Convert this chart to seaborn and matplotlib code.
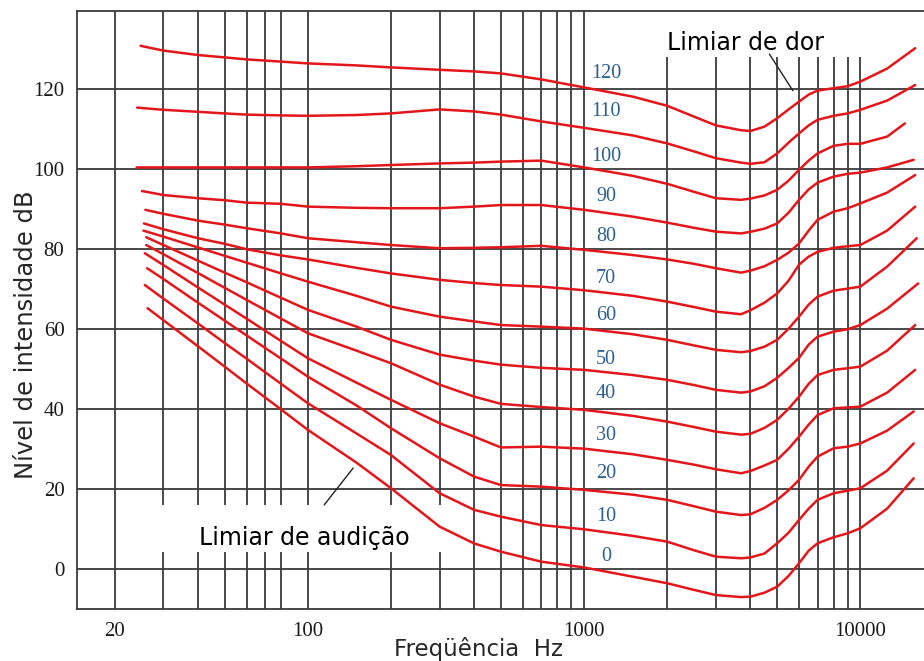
import pandas as pd
import matplotlib
matplotlib.use("Agg")
import matplotlib.pyplot as plt
from matplotlib.patches import Rectangle
from matplotlib.ticker import NullFormatter
import seaborn as sns

# Curvas isofônicas (nível em fon)
levels = [120, 110, 100, 90, 80, 70, 60, 50, 40, 30, 20, 10, 0]

# primeira e última frequência de cada curva
start_hz = [24.8, 24.1, 24.0, 25.1, 25.8, 25.5, 25.4, 26.0, 26.0, 25.7, 26.2, 25.7, 26.3]
end_hz = [15800, 15800, 14500, 15600, 15800, 15800, 16000, 16200, 15800, 15800, 15600, 15600, 15600]

# frequências intermediárias comuns a todas as curvas
mid_hz = [30, 40, 50, 60, 80, 100, 150, 200, 300, 400, 500, 700, 1000, 1500, 2000,
          2500, 3000, 3700, 4000, 4500, 5000, 5500, 6000, 6500, 7000, 8000, 9000, 10000, 12500]

# níveis em dB: início, intermediárias, fim
db_120 = [130.7, 129.5, 128.4, 127.8, 127.3, 126.75, 126.3, 125.8, 125.3, 124.7, 124.3, 123.8, 122.3, 120.3,
          118.0, 115.7, 113.0, 110.8, 109.6, 109.4, 110.5, 112.6, 114.8, 116.75, 118.5, 119.5, 120.1, 120.6,
          121.75, 125.0, 130.1]
db_110 = [115.25, 114.7, 114.2, 113.8, 113.5, 113.3, 113.2, 113.4, 113.8, 114.8, 114.3, 113.5, 111.8, 110.2,
          108.3, 106.3, 104.3, 102.6, 101.5, 101.2, 101.6, 103.8, 106.5, 108.8, 110.8, 112.2, 113.2, 113.8,
          114.7, 117.0, 120.9]
db_100 = [100.3, 100.3, 100.3, 100.3, 100.3, 100.3, 100.3, 100.6, 100.9, 101.3, 101.5, 101.75, 102.0, 100.3,
          98.2, 96.2, 94.2, 92.6, 92.2, 92.5, 93.3, 94.7, 97.0, 99.7, 102.0, 103.8, 105.7, 106.2,
          106.2, 108.0, 111.3]
db_90 = [94.4, 93.4, 92.6, 92.1, 91.5, 91.2, 90.5, 90.2, 90.1, 90.1, 90.5, 90.9, 90.9, 89.7,
         88.0, 86.5, 85.2, 84.25, 83.8, 84.2, 85.0, 86.3, 89.0, 92.2, 94.8, 96.5, 98.0, 98.7,
         99.0, 100.3, 102.2]
db_80 = [89.7, 88.7, 87.0, 86.0, 85.1, 83.8, 82.6, 81.6, 80.9, 80.1, 80.2, 80.35, 80.7, 79.7,
         78.4, 77.3, 76.2, 75.1, 74.0, 74.5, 75.6, 77.2, 79.0, 81.3, 84.5, 87.2, 89.25, 90.1,
         91.3, 94.0, 98.4]
db_70 = [86.3, 84.85, 82.6, 81.2, 79.85, 78.3, 77.3, 75.2, 73.8, 72.2, 71.4, 70.9, 70.5, 69.6,
         68.2, 66.75, 65.4, 64.25, 63.6, 64.6, 66.5, 68.8, 72.0, 76.0, 78.0, 79.2, 80.2, 80.6,
         80.9, 84.5, 90.5]
db_60 = [84.5, 83.0, 80.3, 78.2, 76.5, 73.8, 71.75, 68.2, 65.5, 63.0, 61.8, 60.9, 60.5, 60.0,
         58.6, 57.2, 55.8, 54.7, 54.1, 54.4, 55.5, 57.2, 60.0, 63.0, 66.0, 68.0, 69.5, 70.0,
         70.5, 75.5, 82.6]
db_50 = [82.85, 80.9, 77.0, 74.0, 71.6, 67.7, 64.7, 60.5, 57.2, 53.5, 52.0, 51.0, 50.2, 49.7,
         48.4, 47.2, 45.9, 44.7, 44.0, 44.3, 45.6, 47.7, 50.2, 52.7, 56.0, 58.0, 59.25, 59.85,
         60.9, 65.0, 71.3]
db_40 = [80.9, 78.6, 73.9, 70.2, 67.2, 62.5, 58.85, 54.5, 51.35, 46.0, 43.0, 41.2, 40.4, 39.7,
         38.2, 36.75, 35.4, 34.25, 33.5, 33.7, 35.2, 37.2, 40.0, 43.0, 46.2, 48.4, 49.7, 50.1,
         50.5, 54.5, 60.9]
db_30 = [78.85, 75.9, 70.3, 66.0, 62.5, 56.9, 52.6, 46.5, 42.2, 36.35, 33.0, 30.3, 30.5, 30.0,
         28.6, 27.2, 26.0, 24.85, 23.85, 24.4, 25.8, 27.2, 30.0, 33.0, 36.0, 38.4, 40.1, 40.3,
         40.5, 44.0, 49.7]
db_20 = [75.1, 72.4, 66.5, 62.0, 58.3, 52.5, 48.0, 40.8, 35.1, 27.6, 23.0, 20.9, 20.5, 19.7,
         18.5, 17.2, 15.6, 14.25, 13.4, 13.6, 15.2, 17.2, 19.6, 22.2, 25.5, 28.0, 30.1, 30.5,
         31.3, 34.5, 39.3]
db_10 = [70.9, 67.5, 61.3, 56.4, 52.5, 46.2, 41.35, 33.8, 28.4, 18.85, 14.7, 13.0, 10.9, 9.85,
         8.2, 6.75, 4.6, 3.0, 2.6, 2.8, 3.8, 6.35, 9.0, 12.2, 15.0, 17.2, 18.85, 19.5,
         20.1, 24.5, 31.3]
db_0 = [65.1, 62.1, 55.6, 50.5, 46.3, 39.8, 34.7, 26.5, 20.1, 10.5, 6.3, 4.25, 1.75, 0.3,
        -2.0, -3.65, -5.3, -6.6, -7.1, -7.0, -6.0, -4.5, -1.8, 1.35, 4.5, 6.35, 7.85, 8.85,
        10.1, 15.0, 22.6]

curves_db = [db_120, db_110, db_100, db_90, db_80, db_70, db_60, db_50, db_40, db_30, db_20, db_10, db_0]

# rótulos das curvas (posição vertical em dB, em torno de 1200 Hz)
label_hz = 1200
label_db = [123.85, 114.25, 103.0, 93.0, 83.0, 72.6, 63.4, 52.2, 43.85, 33.4, 23.85, 13.0, 3.0]

major_hz = [20, 100, 1000, 10000]
major_labels = ['20', '100', '1000', '10000']
minor_hz = [30, 40, 50, 60, 70, 80, 200, 300, 400, 500, 600, 700, 800, 900,
            2000, 3000, 4000, 5000, 6000, 7000, 8000, 9000]
y_ticks = [0, 20, 40, 60, 80, 100, 120]

# tabela longa para o seaborn
rows = []
for lvl, f0, f1, dbs in zip(levels, start_hz, end_hz, curves_db):
    for f, d in zip([f0] + mid_hz + [f1], dbs):
        rows.append((lvl, f, d))
df = pd.DataFrame(rows, columns=['nivel', 'freq', 'db'])

sns.set_theme(style='white')
plt.rcParams['font.family'] = ['DejaVu Sans']

grid_c = '#3a3a3a'
red = '#e3161b'
blue = '#2c5f8f'

fig = plt.figure(figsize=(9.24, 6.61), dpi=100)
ax = fig.add_axes([77 / 924, 1 - 609 / 661, 1 - 77 / 924, (609 - 11) / 661])
ax.set_xscale('log')

sns.lineplot(data=df, x='freq', y='db', hue='nivel', palette={l: red for l in levels},
             estimator=None, sort=False, legend=False, linewidth=1.8, ax=ax)

ax.set_xlim(14.6, 17000)
ax.set_ylim(-10.08, 139.4)

ax.set_xticks(major_hz)
ax.set_xticklabels(major_labels, fontfamily='Liberation Serif', fontsize=15)
ax.set_xticks(minor_hz, minor=True)
ax.xaxis.set_minor_formatter(NullFormatter())
ax.set_yticks(y_ticks)
ax.set_yticklabels([str(v) for v in y_ticks], fontfamily='Liberation Serif', fontsize=15)
ax.tick_params(which='both', length=0, pad=9, colors='#1a1a1a')

ax.set_axisbelow(True)
ax.grid(True, which='both', axis='x', color=grid_c, linewidth=1.3)
ax.grid(True, which='major', axis='y', color=grid_c, linewidth=1.3)
for side in ['left', 'bottom', 'top']:
    ax.spines[side].set_color(grid_c)
    ax.spines[side].set_linewidth(1.3)
ax.spines['right'].set_visible(False)
ax.set_xlabel('')
ax.set_ylabel('')

# fundos brancos das anotações
ax.add_patch(Rectangle((25, 4.2), 310 - 25, 15.9 - 4.2, facecolor='white', edgecolor='none', zorder=1))
ax.add_patch(Rectangle((1950, 128.0), 10600 - 1950, 12, facecolor='white', edgecolor='none', zorder=1))

ax.text(97, 7.7, 'Limiar de audição', ha='center', va='center', fontsize=17, color='black', zorder=4)
ax.annotate('', xy=(148, 25.7), xytext=(113, 15.4),
            arrowprops=dict(arrowstyle='-', color='#222222', lw=1.0))
ax.text(3855, 131.4, 'Limiar de dor', ha='center', va='center', fontsize=17, color='black', zorder=4)
ax.annotate('', xy=(5770, 118.9), xytext=(4630, 129.2),
            arrowprops=dict(arrowstyle='-', color='#222222', lw=1.0))

for lvl, yd in zip(levels, label_db):
    ax.text(label_hz, yd, str(lvl), color=blue, fontfamily='Liberation Serif', fontsize=14.5,
            ha='center', va='center', zorder=4)

fig.text(26 / 924, 1 - 335 / 661, 'Nível de intensidade dB', rotation=90,
         ha='center', va='center', fontsize=17.5)
fig.text(479 / 924, 1 - 649 / 661, 'Freqüência  Hz', ha='center', va='center', fontsize=16.5)

fig.savefig('out.png', dpi=100)
